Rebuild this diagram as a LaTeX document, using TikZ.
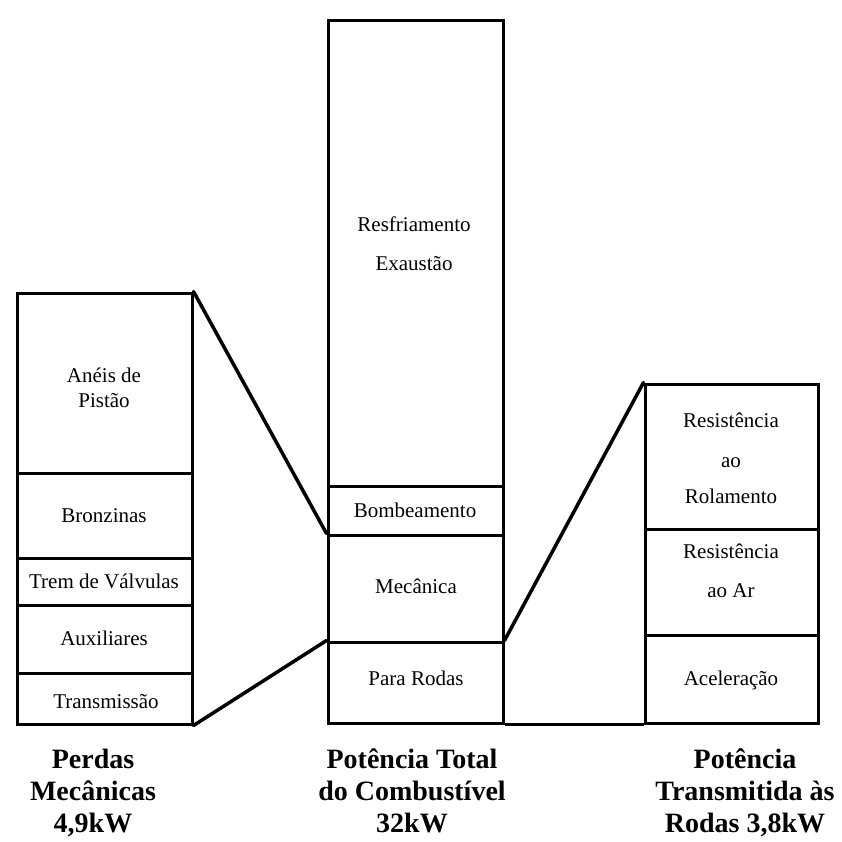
\documentclass[tikz,border=0pt]{standalone}
\usepackage{fontspec}
\setmainfont{Liberation Serif}
\begin{document}
\begin{tikzpicture}[x=1pt,y=-1pt,
  seg/.style={draw, line width=3pt, inner sep=0pt},
  lbl/.style={anchor=base, inner sep=0pt, font=\fontsize{21}{25}\selectfont},
  ttl/.style={anchor=base, inner sep=0pt, font=\fontsize{28}{32}\selectfont\bfseries},
  link/.style={line width=3.5pt, line cap=round}]
\useasboundingbox (0,0) rectangle (841,842);
% left column: x 17..192
\node[seg, minimum width=175pt, minimum height=180pt] (L1) at (104.5,383) {};
\node[seg, minimum width=175pt, minimum height=85pt]  (L2) at (104.5,515.5) {};
\node[seg, minimum width=175pt, minimum height=47pt]  (L3) at (104.5,581.5) {};
\node[seg, minimum width=175pt, minimum height=68pt]  (L4) at (104.5,639) {};
\node[seg, minimum width=175pt, minimum height=51pt]  (L5) at (104.5,698.5) {};
% middle column: x 328..503
\node[seg, minimum width=175pt, minimum height=465pt] (M1) at (415.5,253.5) {};
\node[seg, minimum width=175pt, minimum height=49pt]  (M2) at (415.5,510.5) {};
\node[seg, minimum width=175pt, minimum height=107pt] (M3) at (415.5,588.5) {};
\node[seg, minimum width=175pt, minimum height=81pt]  (M4) at (415.5,682.5) {};
% right column: x 645..818
\node[seg, minimum width=173pt, minimum height=145pt] (R1) at (731.5,456.5) {};
\node[seg, minimum width=173pt, minimum height=106pt] (R2) at (731.5,582) {};
\node[seg, minimum width=173pt, minimum height=88pt]  (R3) at (731.5,679) {};
% connectors
\draw[link] (L1.north east) -- (M3.north west);
\draw[link] (L5.south east) -- (M4.north west);
\draw[link] (M4.north east) -- (R1.north west);
\draw[line width=3pt] (M4.south east) -- (R3.south west);
% box labels
\node[lbl] (t1) at (104,382) {Anéis de};
\node[lbl] (t2) at (104,407) {Pistão};
\node[lbl] (t3) at (104,522) {Bronzinas};
\node[lbl] (t4) at (104,588) {Trem de Válvulas};
\node[lbl] (t5) at (104,645) {Auxiliares};
\node[lbl] (t6) at (106,708) {Transmissão};
\node[lbl] (t7) at (414,232) {Resfriamento};
\node[lbl] (t8) at (414,270) {Exaustão};
\node[lbl] (t9) at (415,517) {Bombeamento};
\node[lbl] (t10) at (416,593) {Mecânica};
\node[lbl] (t11) at (416,685) {Para Rodas};
\node[lbl] (t12) at (731,427) {Resistência};
\node[lbl] (t13) at (731,467) {ao};
\node[lbl] (t14) at (731,503) {Rolamento};
\node[lbl] (t15) at (731,558) {Resistência};
\node[lbl] (t16) at (731,597) {ao Ar};
\node[lbl] (t17) at (731,685) {Aceleração};
% titles
\node[ttl] (a1) at (93,768) {Perdas};
\node[ttl] (a2) at (93,800) {Mecânicas};
\node[ttl] (a3) at (93,832) {4,9kW};
\node[ttl] (b1) at (412,768) {Potência Total};
\node[ttl] (b2) at (412,800) {do Combustível};
\node[ttl] (b3) at (412,832) {32kW};
\node[ttl] (c1) at (745,768) {Potência};
\node[ttl] (c2) at (745,800) {Transmitida às};
\node[ttl] (c3) at (745,832) {Rodas 3,8kW};
\end{tikzpicture}
\end{document}
